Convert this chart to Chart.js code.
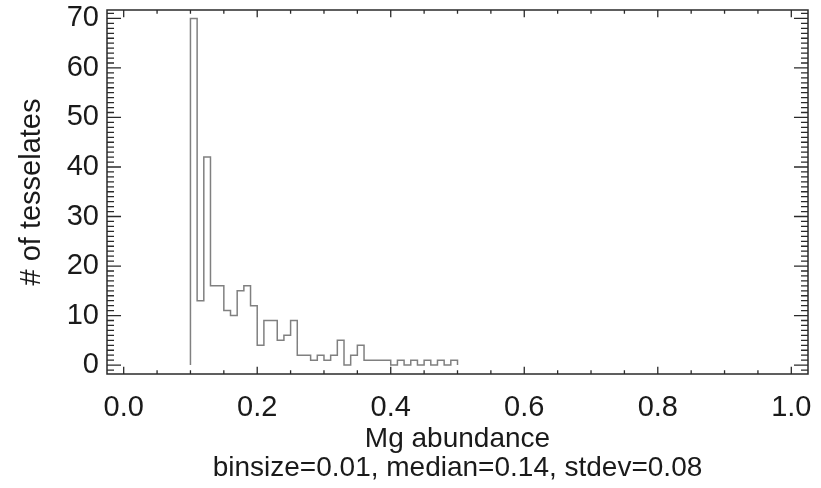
<!DOCTYPE html>
<html>
<head>
<meta charset="utf-8">
<script src="https://cdn.jsdelivr.net/npm/chart.js@4/dist/chart.umd.min.js"></script>
<style>
  html, body { margin: 0; padding: 0; background: #ffffff; }
  canvas { display: block; }
</style>
</head>
<body>
<canvas id="c" width="821" height="488"></canvas>
<script>
// ---- data ----
const binStarts = [0.10, 0.11, 0.12, 0.13, 0.14, 0.15, 0.16, 0.17, 0.18, 0.19,
                   0.20, 0.21, 0.22, 0.23, 0.24, 0.25, 0.26, 0.27, 0.28, 0.29,
                   0.30, 0.31, 0.32, 0.33, 0.34, 0.35, 0.36, 0.37, 0.38, 0.39,
                   0.40, 0.41, 0.42, 0.43, 0.44, 0.45, 0.46, 0.47, 0.48, 0.49];
const counts    = [70, 13, 42, 16, 16, 11, 10, 15, 16, 12,
                    4,  9,  9,  5,  6,  9,  2,  2,  1,  2,
                    1,  2,  5,  0,  2,  4,  1,  1,  1,  1,
                    0,  1,  0,  1,  0,  1,  0,  1,  0,  1];
const lastEdge = 0.50;
const xTickValues = [0.0, 0.2, 0.4, 0.6, 0.8, 1.0];
const xMinorValues = [0.05, 0.1, 0.15, 0.25, 0.3, 0.35, 0.45, 0.5, 0.55, 0.65, 0.7, 0.75, 0.85, 0.9, 0.95];
const yTickValues = [0, 10, 20, 30, 40, 50, 60, 70];
const xTitle = 'Mg abundance';
const subTitle = 'binsize=0.01, median=0.14, stdev=0.08';
const yTitle = '# of tesselates';

// step-histogram points (left bin edges, closed to zero at both ends)
const points = [{x: binStarts[0], y: 0}]
  .concat(binStarts.map((x, i) => ({x: x, y: counts[i]})))
  .concat([{x: lastEdge, y: 0}]);

const FONT = "'Liberation Sans', Arial, Helvetica, sans-serif";
const INK = '#1a1a1a';

const framePlugin = {
  id: 'idlFrame',
  afterDraw(chart) {
    const {ctx, chartArea: a, scales: {x, y}} = chart;
    ctx.save();
    ctx.strokeStyle = '#2a2a2a';
    ctx.lineWidth = 1.3;
    ctx.beginPath();
    const xMaj = 0.02 * (a.bottom - a.top), xMin = xMaj / 2;
    const yMaj = 0.02 * (a.right - a.left), yMin = yMaj / 2;
    const xt = (v, len) => {
      const px = x.getPixelForValue(v);
      ctx.moveTo(px, a.bottom); ctx.lineTo(px, a.bottom - len);
      ctx.moveTo(px, a.top); ctx.lineTo(px, a.top + len);
    };
    const yt = (v, len) => {
      const py = y.getPixelForValue(v);
      ctx.moveTo(a.left, py); ctx.lineTo(a.left + len, py);
      ctx.moveTo(a.right, py); ctx.lineTo(a.right - len, py);
    };
    xTickValues.forEach(v => xt(v, xMaj));
    xMinorValues.forEach(v => xt(v, xMin));
    const yMinorAll = [];
    for (let k = Math.ceil(y.min); k <= Math.floor(y.max); k++) yMinorAll.push(k);
    yMinorAll.forEach(v => { if (yTickValues.indexOf(v) < 0) yt(v, yMin); });
    yTickValues.forEach(v => yt(v, yMaj));
    ctx.stroke();
    ctx.lineWidth = 1.5;
    ctx.strokeRect(a.left, a.top, a.right - a.left, a.bottom - a.top);
    ctx.restore();
  }
};

new Chart(document.getElementById('c'), {
  type: 'line',
  data: {
    datasets: [{
      data: points,
      stepped: 'before',
      borderColor: '#808080',
      borderWidth: 1.5,
      pointRadius: 0,
      fill: false,
      tension: 0
    }]
  },
  options: {
    responsive: false,
    animation: false,
    devicePixelRatio: 1,
    layout: { padding: { left: 0, right: 13, top: 10, bottom: 0 } },
    plugins: { legend: { display: false }, tooltip: { enabled: false } },
    scales: {
      x: {
        type: 'linear',
        min: -0.025,
        max: 1.025,
        grid: { display: false, drawTicks: false },
        border: { display: false },
        afterFit(s) { s.height = 114; s.paddingLeft = 0; s.paddingRight = 0; },
        afterBuildTicks(s) { s.ticks = xTickValues.map(v => ({value: v})); },
        ticks: {
          padding: 17,
          color: INK,
          font: { family: FONT, size: 29 },
          maxRotation: 0,
          callback: v => Number(v).toFixed(1)
        },
        title: {
          display: true,
          text: [xTitle, subTitle],
          color: INK,
          font: { family: FONT, size: 28, lineHeight: 1.04 },
          padding: { top: 0, bottom: 5 }
        }
      },
      y: {
        type: 'linear',
        min: -1.8,
        max: 71.7,
        grid: { display: false, drawTicks: false },
        border: { display: false },
        afterFit(s) { s.width = 107; s.paddingTop = 0; s.paddingBottom = 0; },
        afterBuildTicks(s) { s.ticks = yTickValues.map(v => ({value: v})); },
        ticks: {
          padding: 8,
          color: INK,
          font: { family: FONT, size: 29 },
          callback: v => String(v)
        },
        title: {
          display: true,
          text: yTitle,
          color: INK,
          font: { family: FONT, size: 29 },
          padding: { top: 15, bottom: 0 }
        }
      }
    }
  },
  plugins: [framePlugin]
});
</script>
</body>
</html>
